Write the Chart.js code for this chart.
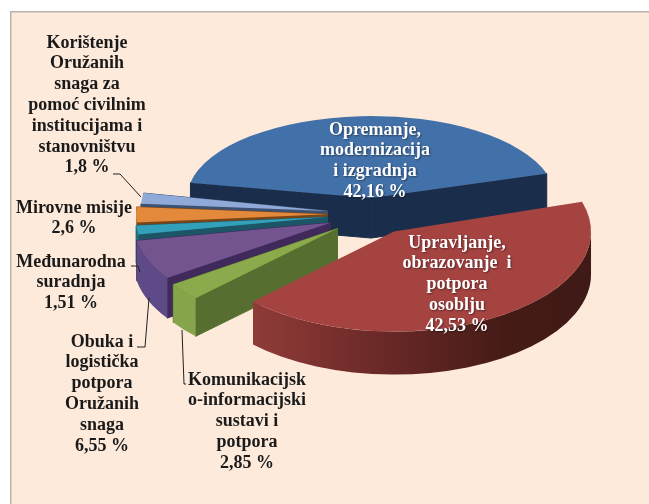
<!DOCTYPE html>
<html><head><meta charset="utf-8">
<style>
html,body{margin:0;padding:0;background:#fff;width:649px;height:504px;overflow:hidden}
#wrap{position:absolute;left:0;top:0;width:649px;height:504px}
canvas{display:block;filter:blur(0.45px)}
</style>
<script src="https://cdn.jsdelivr.net/npm/chart.js@4"></script>
</head><body><div id="wrap"><canvas id="c" width="649" height="504"></canvas></div>
<script>
// ---- data ----
const categories = [
  "Upravljanje, obrazovanje i potpora osoblju",
  "Komunikacijsko-informacijski sustavi i potpora",
  "Obuka i logistička potpora Oružanih snaga",
  "Međunarodna suradnja",
  "Mirovne misije",
  "Korištenje Oružanih snaga za pomoć civilnim institucijama i stanovništvu",
  "Opremanje, modernizacija i izgradnja"
];
const values = [42.53, 2.85, 6.55, 1.51, 2.6, 1.8, 42.16];
const labelLines = [
  ["Upravljanje,","obrazovanje  i","potpora","osoblju"],
  ["Komunikacijsk","o-informacijski","sustavi i","potpora"],
  ["Obuka i","logistička","potpora","Oružanih","snaga"],
  ["Međunarodna","suradnja"],
  ["Mirovne misije"],
  ["Korištenje","Oružanih","snaga za","pomoć civilnim","institucijama i","stanovništvu"],
  ["Opremanje,","modernizacija","i izgradnja"]
];
// ---- styles ----
const topColors  = ["#a54341","#8aaa4c","#73548f","#31a0b8","#e3893c","#8faad8","#4271a9"];
const faceColors = [null,"#566f30","#402a5c","#1b5566","#7a4516","#3d5272","#1a2e4c"];
const wallColors = [null,"#86a44a","#5f4a88","#24707f","#c77a35","#7a92bd","#1a2e4c"];
const explode = [41,46,46,46,46,46,32];
const radiusX = [197,198,197,192,191,187,184];
const radiusY = [100,100,99,96,95,95,82];
const depth = [43,38,40,38,38,38,40];
const drawOrder = [6,5,4,3,2,1,0];
const labelX = [457,247,102,71,74,87,375];
const labelY = [243,380,342,262,208,43,130];
const labelColor = ["#fff","#1a1a1a","#1a1a1a","#1a1a1a","#1a1a1a","#1a1a1a","#fff"];
const leaders = [
  [[113,174],[120,174],[141,197]],
  [[131,266],[138,266],[140,272]],
  [[137,347],[145,347],[149,298]],
  [[186,384],[184,384],[182,330]]
];
const R = 100, lineH = 20.8;

const pie3d = {
  id:'pie3d',
  beforeDraw(chart){
    const ctx = chart.ctx;
    ctx.save();
    ctx.fillStyle = '#fdeadb';
    ctx.fillRect(11,12,638,492);
    ctx.fillStyle = '#b9b3ad';
    ctx.fillRect(10,11,639,1.5);
    ctx.fillRect(10,11,1.5,493);
    ctx.restore();
  },
  beforeDatasetsDraw(chart){
    const ctx = chart.ctx, arcs = chart.getDatasetMeta(0).data;
    drawOrder.forEach(i=>{
      const a = arcs[i], mid = (a.startAngle+a.endAngle)/2;
      const ax = a.x + Math.cos(mid)*explode[i];
      const ay = a.y + Math.sin(mid)*explode[i]*0.5;
      const rx = radiusX[i], ry = radiusY[i], d = depth[i];
      const pt = t=>[ax+Math.cos(t)*rx, ay+Math.sin(t)*ry];
      // radial cut faces
      if (faceColors[i]){
        ctx.fillStyle = faceColors[i];
        ctx.strokeStyle = faceColors[i];
        ctx.lineWidth = 1;
        [a.startAngle,a.endAngle].forEach(t=>{
          const p = pt(t);
          ctx.beginPath();
          ctx.moveTo(ax,ay);ctx.lineTo(p[0],p[1]);ctx.lineTo(p[0],p[1]+d);ctx.lineTo(ax,ay+d);
          ctx.closePath();ctx.fill();ctx.stroke();
        });
      }
      // outer wall (front-facing part only)
      const TAU = 2*Math.PI;
      let s = a.startAngle, e = a.endAngle;
      while (s > Math.PI){ s -= TAU; e -= TAU; }
      while (s < -Math.PI){ s += TAU; e += TAU; }
      const w0 = Math.max(s,0), w1 = Math.min(e,Math.PI);
      if (w1>w0){
        ctx.beginPath();
        ctx.ellipse(ax,ay,rx,ry,0,w0,w1,false);
        ctx.ellipse(ax,ay+d,rx,ry,0,w1,w0,true);
        ctx.closePath();
        if (wallColors[i]) ctx.fillStyle = wallColors[i];
        else {
          const g = ctx.createLinearGradient(ax-rx*0.7,0,ax+rx,0);
          g.addColorStop(0,'#8f3b38');g.addColorStop(0.35,'#6c2a28');g.addColorStop(0.75,'#451b17');g.addColorStop(1,'#3f1a16');
          ctx.fillStyle = g;
        }
        ctx.fill();
      }
      // top surface from the library's arc element
      ctx.save();
      ctx.translate(ax,ay);
      ctx.scale(rx/R,ry/R);
      ctx.translate(-a.x,-a.y);
      a.draw(ctx);
      ctx.restore();
    });
    return false;
  },
  afterDraw(chart){
    const ctx = chart.ctx;
    ctx.save();
    ctx.strokeStyle = '#222';
    ctx.lineWidth = 1;
    leaders.forEach(l=>{
      ctx.beginPath();
      l.forEach((p,n)=>n?ctx.lineTo(p[0],p[1]):ctx.moveTo(p[0],p[1]));
      ctx.stroke();
    });
    ctx.textAlign='center';ctx.textBaseline='middle';
    ctx.font='bold 18px "Liberation Serif"';
    labelLines.forEach((lines,i)=>{
      const all = lines.concat([String(values[i]).replace('.',',')+' %']);
      ctx.fillStyle = labelColor[i];
      if (labelColor[i]==='#fff'){ctx.shadowColor='rgba(0,0,0,.45)';ctx.shadowBlur=2;ctx.shadowOffsetX=1;ctx.shadowOffsetY=1;}
      else {ctx.shadowColor='transparent';ctx.shadowBlur=0;ctx.shadowOffsetX=0;ctx.shadowOffsetY=0;}
      all.forEach((t,n)=>ctx.fillText(t,labelX[i],labelY[i]+n*lineH));
    });
    ctx.restore();
  }
};

new Chart(document.getElementById('c'),{
  type:'pie',
  data:{labels:categories,datasets:[{data:values,backgroundColor:topColors,borderWidth:0,radius:R}]},
  options:{
    responsive:false,animation:false,rotation:72.6,
    layout:{padding:{left:97,bottom:76}},
    plugins:{legend:{display:false},tooltip:{enabled:false}}
  },
  plugins:[pie3d]
});
</script></body></html>
